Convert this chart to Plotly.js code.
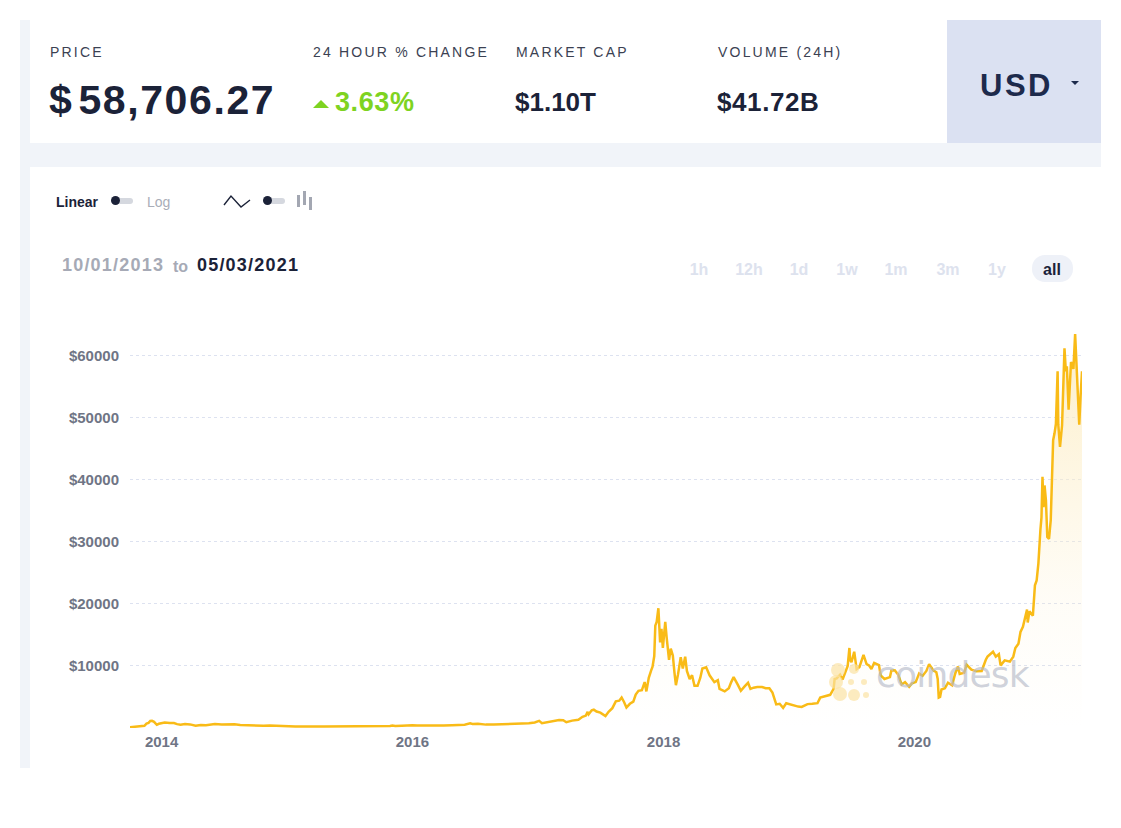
<!DOCTYPE html>
<html>
<head>
<meta charset="utf-8">
<script src="https://cdn.plot.ly/plotly-3.0.1.min.js"></script>
<style>
  html, body { margin:0; padding:0; background:#ffffff; width:1121px; height:828px; overflow:hidden; font-family:"Liberation Sans", Arial, sans-serif; }
  .abs { position:absolute; white-space:nowrap; }
  .lbl { font-family:"Liberation Sans", Arial, sans-serif; font-size:14px; letter-spacing:2.2px; color:#3b4152; }
  .val { font-family:"Liberation Sans", Arial, sans-serif; font-weight:bold; color:#1b2238; }
  .rng { font-family:"Liberation Sans", Arial, sans-serif; font-weight:bold; font-size:16px; color:#dde2ee; transform:translateX(-50%); }
</style>
</head>
<body>
<!-- page frame -->
<div class="abs" style="left:20px;top:20px;width:10px;height:748px;background:#f1f4f9;"></div>
<div class="abs" style="left:30px;top:20px;width:917px;height:123px;background:#ffffff;"></div>
<div class="abs" style="left:947px;top:20px;width:154px;height:123px;background:#dbe1f2;"></div>
<div class="abs" style="left:30px;top:143px;width:1071px;height:24px;background:#f1f4f9;"></div>

<!-- header -->
<div class="abs lbl" style="left:50px;top:44px;">PRICE</div>
<div class="abs val" style="left:49px;top:77px;font-size:41px;letter-spacing:1.6px;">$&#8202;58,706.27</div>
<div class="abs lbl" style="left:313px;top:44px;">24 HOUR % CHANGE</div>
<div class="abs" style="left:313px;top:100px;width:0;height:0;border-left:8px solid transparent;border-right:8px solid transparent;border-bottom:8px solid #7ed321;"></div>
<div class="abs val" style="left:335px;top:87px;font-size:27px;letter-spacing:0.6px;color:#7ed321;">3.63%</div>
<div class="abs lbl" style="left:516px;top:44px;">MARKET CAP</div>
<div class="abs val" style="left:515px;top:87px;font-size:26px;letter-spacing:0px;">$1.10T</div>
<div class="abs lbl" style="left:718px;top:44px;">VOLUME (24H)</div>
<div class="abs val" style="left:717px;top:87px;font-size:26px;letter-spacing:0.6px;">$41.72B</div>
<div class="abs val" style="left:980px;top:68px;font-size:31px;letter-spacing:2.5px;color:#1d2a4c;">USD</div>
<div class="abs" style="left:1071px;top:81px;width:0;height:0;border-left:4px solid transparent;border-right:4px solid transparent;border-top:4px solid #1d2a4c;"></div>

<!-- toolbar -->
<div class="abs" style="left:56px;top:194px;font-size:14px;font-weight:bold;color:#1b2238;">Linear</div>
<div class="abs" style="left:112px;top:198px;width:21px;height:6px;border-radius:3px;background:#d5d8df;"></div>
<div class="abs" style="left:111px;top:196px;width:9px;height:9px;border-radius:50%;background:#1b2238;"></div>
<div class="abs" style="left:147px;top:194px;font-size:14px;color:#a9adb8;">Log</div>
<svg class="abs" style="left:222px;top:192px;" width="30" height="18"><polyline points="2,13 9,4 19,15 28,8" fill="none" stroke="#1b2238" stroke-width="1.4"/></svg>
<div class="abs" style="left:264px;top:198px;width:21px;height:6px;border-radius:3px;background:#d5d8df;"></div>
<div class="abs" style="left:263px;top:196px;width:9px;height:9px;border-radius:50%;background:#1b2238;"></div>
<svg class="abs" style="left:296px;top:190px;" width="20" height="22"><rect x="1" y="5" width="3" height="12" fill="#a3a7b2"/><rect x="7" y="1" width="3" height="14" fill="#a3a7b2"/><rect x="13" y="7" width="3" height="13" fill="#a3a7b2"/></svg>

<div class="abs" style="left:62px;top:255px;font-size:18px;letter-spacing:1.2px;font-weight:bold;color:#a6aab6;">10/01/2013</div>
<div class="abs" style="left:173px;top:258px;font-size:16px;font-weight:bold;color:#a6aab6;">to</div>
<div class="abs" style="left:197px;top:255px;font-size:18px;letter-spacing:1.2px;font-weight:bold;color:#1b2238;">05/03/2021</div>

<div class="abs" style="left:1032px;top:255px;width:41px;height:27px;border-radius:13px;background:#eef1f8;"></div>
<div class="abs rng" style="left:699px;top:261px;">1h</div>
<div class="abs rng" style="left:749px;top:261px;">12h</div>
<div class="abs rng" style="left:799px;top:261px;">1d</div>
<div class="abs rng" style="left:847px;top:261px;">1w</div>
<div class="abs rng" style="left:896px;top:261px;">1m</div>
<div class="abs rng" style="left:948px;top:261px;">3m</div>
<div class="abs rng" style="left:997px;top:261px;">1y</div>
<div class="abs rng" style="left:1052px;top:261px;color:#1b2238;">all</div>

<div id="chart" class="abs" style="left:30px;top:300px;width:1071px;height:468px;"></div>

<!-- watermark -->
<svg class="abs" style="left:826px;top:660px;pointer-events:none;" width="50" height="45">
  <g fill="#fbe3a4" fill-opacity="0.7">
    <circle cx="12" cy="10" r="7"/>
    <circle cx="10" cy="22" r="7"/>
    <circle cx="14" cy="34" r="7"/>
    <circle cx="28" cy="35" r="6"/>
    <circle cx="28" cy="9" r="5"/>
    <circle cx="25" cy="22" r="3"/>
    <circle cx="38" cy="22" r="3"/>
    <circle cx="40" cy="35" r="3"/>
  </g>
</svg>
<div class="abs" style="left:876px;top:654px;font-family:'DejaVu Sans',sans-serif;font-size:36px;letter-spacing:-0.8px;color:rgba(180,185,199,0.65);pointer-events:none;">coindesk</div>

<script>
// Bitcoin price (USD)
const dates = [
"2013-10-01","2013-10-20","2013-11-05","2013-11-12","2013-11-18","2013-11-24","2013-11-29","2013-12-04","2013-12-10","2013-12-18","2013-12-24","2013-12-31",
"2014-01-10","2014-01-25","2014-02-06","2014-02-15","2014-02-25","2014-03-10","2014-03-25","2014-04-10","2014-04-25","2014-05-10","2014-05-25","2014-06-05","2014-06-25","2014-07-15","2014-08-01","2014-08-18","2014-09-05","2014-09-22","2014-10-05","2014-10-25","2014-11-12","2014-12-01","2014-12-20",
"2015-01-01","2015-01-14","2015-01-25","2015-02-15","2015-03-10","2015-04-01","2015-04-20","2015-05-15","2015-06-10","2015-07-01","2015-07-12","2015-08-01","2015-08-25","2015-09-15","2015-10-10","2015-10-28","2015-11-04","2015-11-12","2015-12-01","2015-12-16",
"2016-01-01","2016-01-15","2016-02-01","2016-02-20","2016-03-10","2016-04-01","2016-04-25","2016-05-15","2016-06-01","2016-06-17","2016-06-24","2016-07-10","2016-08-02","2016-08-25","2016-09-20","2016-10-10","2016-10-28","2016-11-15","2016-12-05","2016-12-22",
"2017-01-04","2017-01-12","2017-01-25","2017-02-10","2017-02-25","2017-03-03","2017-03-15","2017-03-24","2017-04-10","2017-04-28","2017-05-10","2017-05-20","2017-05-25","2017-05-28","2017-06-06","2017-06-12","2017-06-20","2017-07-01","2017-07-16","2017-07-25","2017-08-05","2017-08-15","2017-08-25","2017-09-01","2017-09-08","2017-09-15","2017-09-25","2017-10-05","2017-10-12","2017-10-20","2017-10-30","2017-11-07","2017-11-12","2017-11-19","2017-11-26","2017-11-30","2017-12-05","2017-12-08","2017-12-12","2017-12-17","2017-12-22","2017-12-26","2017-12-30",
"2018-01-06","2018-01-10","2018-01-17","2018-01-22","2018-01-28","2018-02-02","2018-02-06","2018-02-12","2018-02-20","2018-02-26","2018-03-05","2018-03-10","2018-03-18","2018-03-25","2018-04-01","2018-04-10","2018-04-18","2018-04-24","2018-05-05","2018-05-15","2018-05-29","2018-06-08","2018-06-13","2018-06-28","2018-07-10","2018-07-17","2018-07-24","2018-08-05","2018-08-14","2018-08-25","2018-09-04","2018-09-11","2018-09-20","2018-10-01","2018-10-15","2018-10-25","2018-11-05","2018-11-14","2018-11-19","2018-11-25","2018-12-05","2018-12-15","2018-12-24",
"2019-01-05","2019-01-15","2019-01-28","2019-02-07","2019-02-24","2019-03-10","2019-03-25","2019-04-02","2019-04-15","2019-05-01","2019-05-11","2019-05-14","2019-05-20","2019-05-30","2019-06-06","2019-06-15","2019-06-21","2019-06-26","2019-06-28","2019-07-02","2019-07-10","2019-07-17","2019-07-25","2019-08-06","2019-08-15","2019-08-22","2019-08-29","2019-09-06","2019-09-20","2019-09-25","2019-10-06","2019-10-22","2019-10-26","2019-11-05","2019-11-15","2019-11-25","2019-12-05","2019-12-17","2019-12-25",
"2020-01-05","2020-01-15","2020-01-25","2020-02-05","2020-02-13","2020-02-25","2020-03-05","2020-03-09","2020-03-12","2020-03-16","2020-03-20","2020-03-30","2020-04-08","2020-04-20","2020-04-29","2020-05-07","2020-05-12","2020-05-25","2020-06-01","2020-06-15","2020-06-30","2020-07-15","2020-07-27","2020-08-01","2020-08-17","2020-08-25","2020-09-03","2020-09-08","2020-09-20","2020-10-05","2020-10-15","2020-10-21","2020-10-30","2020-11-05","2020-11-12","2020-11-18","2020-11-24","2020-11-26","2020-12-01","2020-12-11","2020-12-17","2020-12-22","2020-12-27",
"2021-01-02","2021-01-05","2021-01-08","2021-01-11","2021-01-14","2021-01-18","2021-01-22","2021-01-27","2021-02-01","2021-02-08","2021-02-12","2021-02-16","2021-02-21","2021-02-23","2021-02-28","2021-03-06","2021-03-13","2021-03-17","2021-03-20","2021-03-25","2021-04-01","2021-04-08","2021-04-13","2021-04-18","2021-04-22","2021-04-25","2021-04-29","2021-05-03"
];
const prices = [
123,175,245,355,700,820,1130,1150,990,520,680,750,
880,810,790,620,530,630,580,370,490,440,580,650,580,620,590,500,480,420,330,360,420,370,330,
315,175,250,235,290,245,225,240,230,260,310,280,230,230,245,310,400,330,375,455,
432,385,375,420,415,416,460,455,540,750,640,675,545,575,600,610,700,740,765,900,
1150,780,900,1000,1180,1270,1240,930,1190,1340,1800,2000,2600,2200,2850,2950,2650,2480,1930,2600,3200,4300,4400,4900,4200,3300,3900,4250,5400,6000,6100,7400,5900,8100,9300,9900,11600,16500,17100,19300,13800,16000,12900,
17100,14600,11000,12800,11700,8800,6900,8600,11400,9600,11500,9200,7900,8500,6800,6800,8100,9600,9800,8500,7400,7700,6300,5900,6400,7400,8200,7000,6000,6700,7300,6300,6500,6600,6600,6400,6400,5700,4900,3800,3900,3250,4000,
3800,3600,3450,3400,3850,3900,4000,4900,5100,5350,6300,7900,8000,8600,7800,9000,10000,12900,11000,10600,12300,9500,9800,11800,10300,10100,9500,10500,10150,8500,7900,8200,9250,9300,8600,7000,7400,6650,7200,
7400,8800,8400,9200,10300,9300,9000,7900,4900,5000,6200,6400,7300,6900,8800,9900,8700,8900,10200,9400,9150,9200,11000,11500,12300,11500,11900,10100,10900,10700,11500,12900,13600,15500,16300,17800,19100,17000,18800,18100,23000,23800,26500,
32000,33900,40500,35600,39100,36700,30800,30500,33500,46400,47500,49000,57500,48900,45300,48800,61200,57500,58300,51300,59000,57900,63500,56300,51300,48900,53600,57500
];

const trace = {
  x: dates, y: prices, type: "scatter", mode: "lines",
  line: { color: "#f9bb17", width: 2.5, shape: "linear" },
  fill: "tozeroy",
  fillgradient: { type: "vertical", start: 0, stop: 64000,
    colorscale: [[0, "rgba(253,240,205,0)"], [0.3, "rgba(253,240,205,0.15)"], [1, "rgba(252,235,190,0.85)"]] },
  hoverinfo: "skip"
};

const yTicks = [10000, 20000, 30000, 40000, 50000, 60000];
const yTickText = ["$10000", "$20000", "$30000", "$40000", "$50000", "$60000"];
const xTicks = ["2014-01-01", "2016-01-01", "2018-01-01", "2020-01-01"];
const xTickText = ["2014", "2016", "2018", "2020"];

const layout = {
  width: 1071, height: 468,
  margin: { l: 100, r: 19, t: 31, b: 40 },
  paper_bgcolor: "rgba(0,0,0,0)", plot_bgcolor: "rgba(0,0,0,0)",
  showlegend: false,
  font: { family: "Liberation Sans, Arial, sans-serif", size: 15, color: "#6f7585" },
  xaxis: {
    type: "date", range: ["2013-10-01", "2021-05-03"],
    tickvals: xTicks, ticktext: xTickText,
    showgrid: false, zeroline: false, showline: false, ticks: "",
    tickfont: { family: "Liberation Sans, Arial, sans-serif", size: 15, color: "#6f7585", weight: "bold" },
    ticklabelstandoff: 3
  },
  yaxis: {
    range: [0, 64000],
    tickvals: yTicks, ticktext: yTickText,
    showgrid: true, gridcolor: "#dde2f0", griddash: "dot", gridwidth: 1,
    zeroline: false, showline: false, ticks: "",
    tickfont: { family: "Liberation Sans, Arial, sans-serif", size: 15, color: "#6f7585", weight: "bold" },
    ticklabelstandoff: 10
  }
};

Plotly.newPlot("chart", [trace], layout, { displayModeBar: false, staticPlot: true });
</script>
</body>
</html>
